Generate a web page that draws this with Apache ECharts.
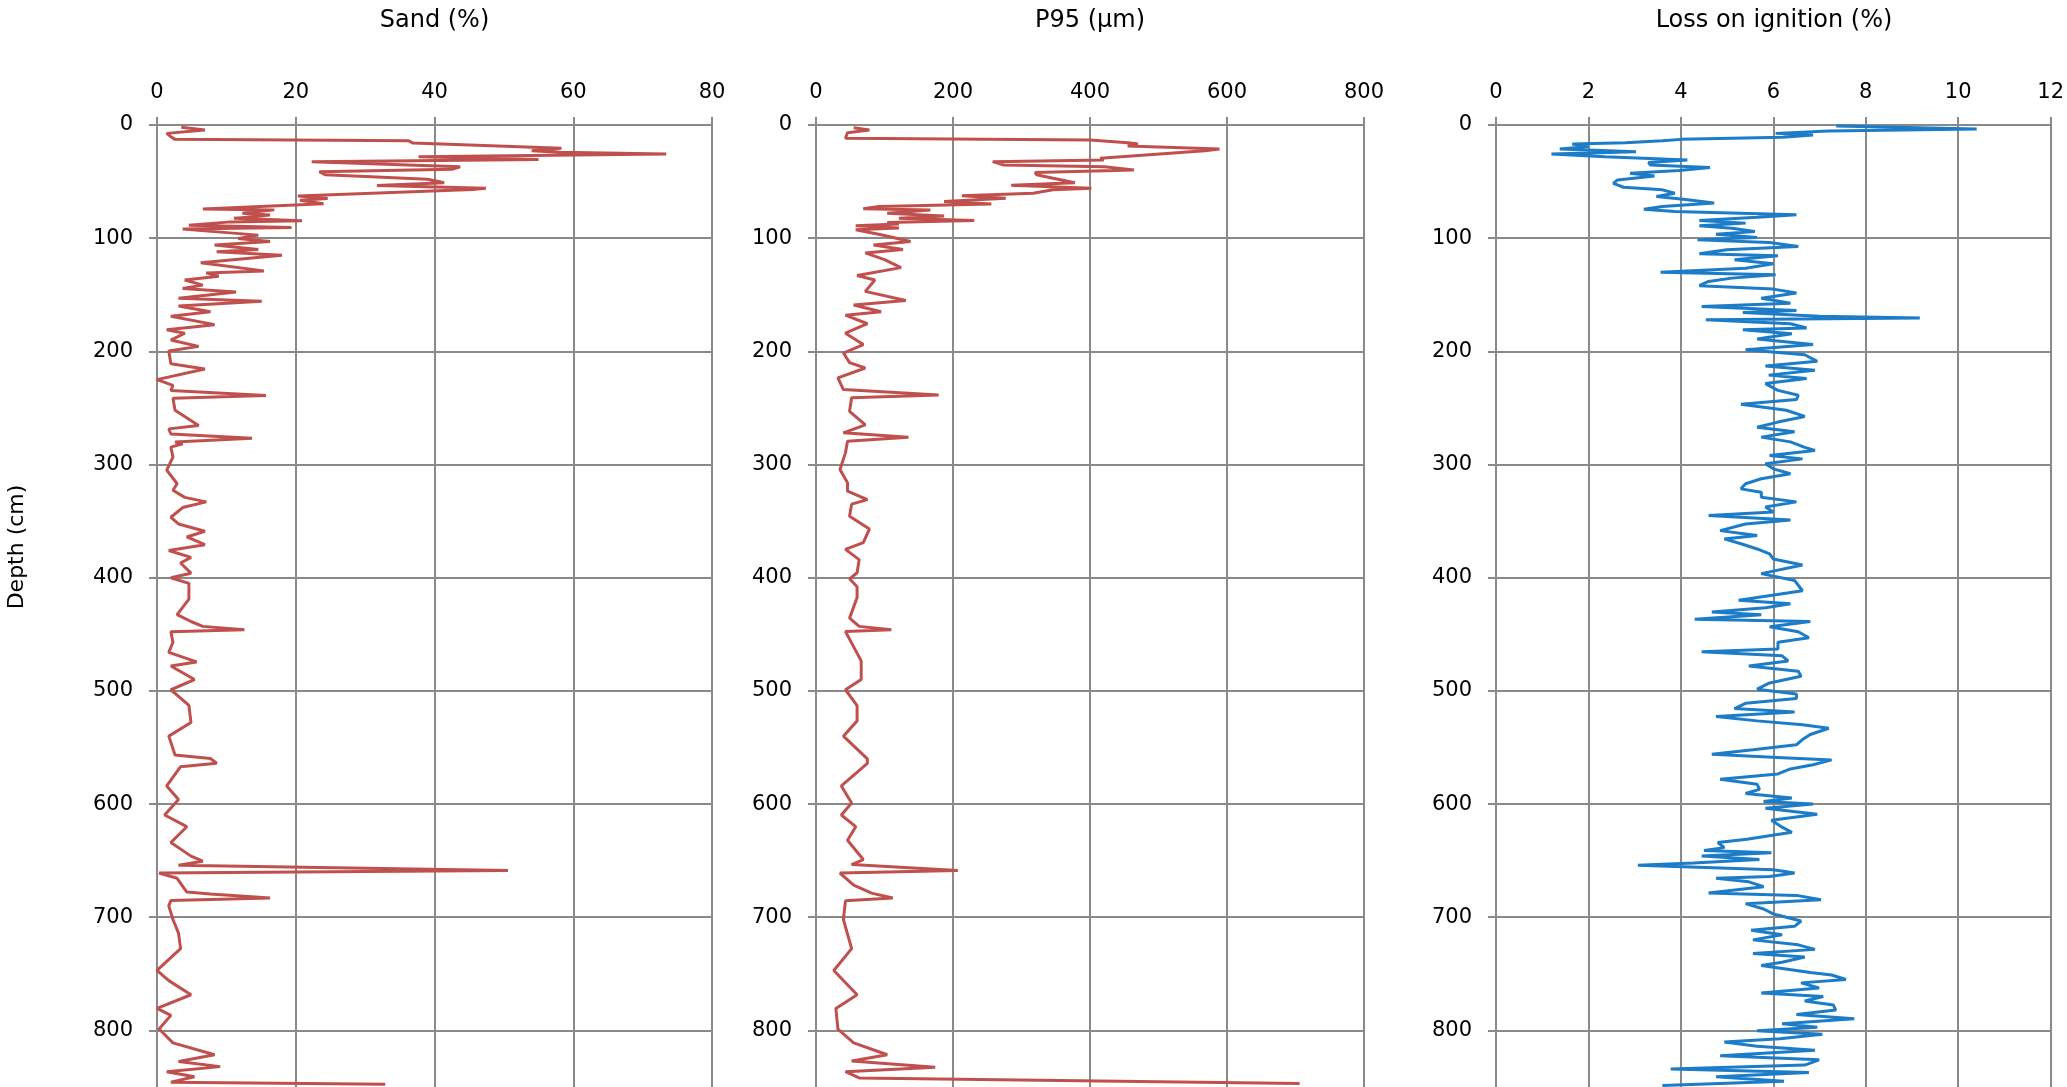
<!DOCTYPE html>
<html>
<head>
<meta charset="utf-8">
<script src="https://cdn.jsdelivr.net/npm/echarts@6/dist/echarts.min.js"></script>
<style>
html,body{margin:0;padding:0;background:#fff;}
#chart{width:2067px;height:1087px;}
</style>
</head>
<body>
<div id="chart"></div>
<script>
// ---------- data ----------
const panelTitles = ['Sand (%)', 'P95 (\u00b5m)', 'Loss on ignition (%)'];
const depthLabel = 'Depth (cm)';
const xMax = [80, 800, 12];
const xInterval = [20, 200, 2];
const depthMax = 850;
const depthInterval = 100;

const sandDepth = [2,4.4,7.4,10.3,12.7,14,16,20.6,22.7,24,25.7,28,30.4,32.4,36.9,39,41.3,44,48,51,53.4,55.8,57,62.8,64.9,66.5,69.6,74.3,75,78,79.6,82.5,84.7,85.6,88.5,90.6,92,97.3,100.3,103,106,110,112,115,121.8,128.9,130.7,133.6,137,141.5,144.5,147.5,153,155.8,160,165,169,176.4,181,184,190,195.6,199.7,211,215.6,225,230,234.5,239,241.5,252,265.5,268.5,273,276.7,280.2,281.7,284.6,293.5,305,317,322.7,329,333,338,346.6,352.5,359,364,370.8,376,382,387,396,400,405,419,432.7,438.7,443,446,447.8,457,466,474.4,478,490,499,512.9,528,540,556.7,559.8,564,567,584,596,609.7,620,634,646,650.5,654,658.7,661,665.6,677.8,679.5,683,685.3,690,702,714,727.7,747,756,768.5,780.6,786.7,798.8,811,821.5,827.5,832,836.6,841,845.7,847.5];
const sandValue = [3.5,6.9,1.4,2.0,2.6,36.3,36.9,58.3,54,58,73.4,37.7,55,22.3,43.7,42.6,23.4,24.3,39,41.4,31.7,47.4,45.5,20.3,24.6,20.6,24,6.6,16.9,12.3,16.3,11.1,20.9,10.6,4.6,19.4,3.7,14.6,11.7,16.3,8.3,14.6,8.6,18,6.3,15.4,7.1,8.9,4,6.6,3.7,11.4,3.1,15.1,3.1,7.7,2,8.3,1.4,4,2,6,1.7,2,6.9,0,2.3,2,15.7,2.3,2.6,6,1.7,2,13.7,2.6,3.7,2,2.3,1.4,2.9,2.3,4,7.1,3.7,2,3.1,6.9,4.3,6.9,1.7,4.9,3.4,4.9,2,4.6,4.6,2.9,4.9,6.6,12.6,2,2.3,1.7,5.7,2,5.4,2,4.6,4.9,1.7,2.6,7.7,8.6,3.4,1.4,3.1,1.1,4.3,2,4.9,6.6,3.1,50.6,0.3,2.9,4.3,7.7,16.3,2,1.7,2.3,3.1,3.4,0,1.7,4.9,0,2,0.3,2.3,8.3,3.1,9.1,1.4,5.4,2,32.9];

const p95Depth = [2.4,4.4,6.8,11.8,13.2,15.6,16.8,18.5,21.2,22.7,29.4,31,32.4,35.3,36.8,39.7,42,44,47,51,53.2,55.9,57.3,60.3,62.6,64.7,67.6,69.7,72,74,75,78,80.3,82.4,84.4,86.2,87.4,89,91,92.6,97,103,106,110,113,119,126,133,137,147,155,159,165,168,175.6,184,194,201.5,210,214.7,223.5,233.8,238.5,241,253,265,272,276,279.5,289.7,304.4,316,323.5,331,335,345.6,357,369,375,384,395.6,401,408,417.5,435.7,443,446,447.5,473.5,490,499,513,526.5,540,560,564,584,599,609.7,620,632,649,653.5,658.7,661,671.7,678.7,683,685.5,702,727.7,747,768.5,780.6,798.8,811,821.5,827,832.6,836.5,842,847];
const p95Value = [55,78,46,43,400,455,470,455,589,568,415,420,258,274,421,464,320,322,346,378,285,402,346,317,213,277,187,256,92,69,167,104,187,121,231,104,121,58,121,58,95,138,84,127,72,100,124,60,86,72,131,55,95,43,75,43,69,40,49,72,32,40,179,52,49,72,40,135,46,43,35,46,46,75,52,49,78,69,43,63,60,49,60,60,49,63,110,43,66,66,43,60,60,40,75,75,37,52,37,58,46,69,52,207,35,55,81,112,43,40,52,26,60,29,32,55,104,52,174,43,63,706];

const loiDepth = [0.9,3.5,5.3,7.4,8.8,10.9,12.7,13.9,15.6,16.8,19,21.2,23.6,25.7,28,31,33.2,35.3,37.6,40.3,42.6,45,48.5,51.6,55,57.3,60.3,63.2,65.6,69,72,74.4,76.5,79.4,81.5,84.4,86.7,89,91.2,94.1,96.5,99.4,101.5,103.8,107.4,110.3,113.8,115.6,119,122.6,126.5,130,132.4,135.3,138.2,142,145,148.5,153,157.4,160.3,163.8,165.6,169,170.6,172,175.6,179.4,181,184.5,189,194,198.5,203,208.8,213,216.8,221,224,228.5,234.5,238.8,242.6,246.8,252,257.5,262.5,267,271,275.8,280,284.8,287.6,292,295,299.4,303.8,308.2,312.6,317,321.5,324.5,329,333,337.6,342,345,349,352.5,358.4,362.8,365.7,370,374.6,379,383.5,388.8,396.4,402.4,411.5,420,423,426.6,430.3,432.7,436.6,438.7,443.3,447.8,453,457,463,465.4,469,473.5,478,482.6,487,493,498.5,502.7,506.7,511,515.6,518.6,522.7,526.5,530,533,538.5,543,547.6,552,556,559.2,561,565.3,569,573.4,578,582.5,587,590.7,594.7,597.7,600,603.8,609,614.4,620.4,625,631,634,638.5,641,643,646,649,652,654,658,661,664,665.6,668.7,673,678.6,680.7,684.6,688,692.7,697,700,703.3,708,711.5,715.4,720,724.4,728.4,732,735.2,739.7,742.7,748.8,751,755,758,762.5,767,770,774,777.6,782,786,789.7,794.2,797.3,800.3,803.3,807.3,810.3,814,817.6,822.4,826,830.6,834.2,837.2,841,845,848.6];
const loiValue = [7.36,10.4,7.2,6.05,6.86,6.2,4.0,3.6,2.8,1.65,2.0,1.38,3.03,1.2,2.36,4.14,3.3,3.34,4.63,3.96,2.9,3.43,2.63,2.54,2.76,3.6,3.87,3.47,4.05,4.72,3.6,3.2,3.87,6.5,5.65,4.4,5.4,4.4,5.1,5.6,4.76,5.65,4.36,5.92,6.54,4.99,4.4,6.1,5.16,6.0,5.4,3.56,6.05,5.1,4.6,4.4,6.0,6.5,5.74,6.37,4.45,6.5,5.34,7.0,9.17,4.54,6.37,6.72,5.34,6.4,5.65,6.86,5.4,6.68,6.95,5.83,6.9,5.9,6.72,5.83,6.1,6.54,6.5,5.3,6.28,6.68,6.1,5.65,6.46,5.74,6.37,6.68,6.9,5.92,6.63,5.83,6.0,6.37,5.74,5.4,5.3,5.74,5.74,6.5,5.83,6.0,4.6,6.37,5.4,4.85,5.65,4.94,5.3,5.65,5.92,6.0,6.63,5.74,6.46,6.63,5.25,6.37,5.83,4.67,5.74,4.3,6.8,5.92,6.54,6.77,6.1,6.1,4.45,6.19,6.32,5.47,6.54,6.6,5.92,5.65,6.5,6.5,5.4,5.16,6.46,4.76,5.65,6.63,7.2,6.8,6.63,6.5,5.56,4.67,6.32,7.26,6.86,6.37,6.1,4.85,5.65,5.7,5.4,6.4,5.79,6.86,5.83,6.95,5.96,6.19,6.4,5.43,4.8,4.94,4.5,5.96,4.45,5.7,4.27,3.07,6.0,6.46,5.92,4.76,5.47,5.79,4.6,6.5,7.03,5.4,5.79,6.0,6.28,6.6,6.46,5.52,6.19,5.56,6.54,6.9,5.56,6.68,6.19,5.74,6.8,7.26,7.57,6.6,6.99,5.74,7.08,6.68,7.3,7.35,6.5,7.75,6.19,6.95,5.65,7.06,6.14,4.94,5.65,6.9,4.85,6.99,6.68,3.78,6.77,4.76,6.23,3.6];

// ---------- build ----------
const seriesDepths = [sandDepth, p95Depth, loiDepth];
const seriesValues = [sandValue, p95Value, loiValue];
const colors = ['#c0504d', '#c0504d', '#1c7cc8'];
const gridLeft = [157, 816, 1496];
const gridWidth = [555, 548, 556];
const gray = '#898989';
const font = 'DejaVu Sans';

const grids = [], xAxes = [], yAxes = [], series = [], graphics = [];
for (let i = 0; i < 3; i++) {
  grids.push({left: gridLeft[i], top: 125, width: gridWidth[i], bottom: 0, containLabel: false});
  xAxes.push({
    type: 'value', gridIndex: i, position: 'top', min: 0, max: xMax[i], interval: xInterval[i],
    axisLine: {show: true, lineStyle: {color: gray, width: 2}},
    axisTick: {show: true, length: 8, lineStyle: {color: gray, width: 2}},
    axisLabel: {color: '#000', fontSize: 21, fontFamily: font, margin: 22},
    splitLine: {show: true, lineStyle: {color: gray, width: 2}}
  });
  yAxes.push({
    type: 'value', gridIndex: i, inverse: true, min: 0, max: depthMax, interval: depthInterval,
    axisLine: {show: true, lineStyle: {color: gray, width: 2}},
    axisTick: {show: true, length: 8, lineStyle: {color: gray, width: 2}},
    axisLabel: {color: '#000', fontSize: 21, fontFamily: font, margin: 24, showMaxLabel: false},
    splitLine: {show: true, showMaxLine: false, lineStyle: {color: gray, width: 2}}
  });
  const d = seriesDepths[i].map((dep, k) => [seriesValues[i][k], dep]);
  series.push({
    type: 'line', xAxisIndex: i, yAxisIndex: i, data: d, showSymbol: false, symbol: 'none',
    lineStyle: {color: colors[i], width: 3}, itemStyle: {color: colors[i]}
  });
  graphics.push({
    type: 'text', x: gridLeft[i] + gridWidth[i] / 2, y: 21,
    style: {text: panelTitles[i], fontSize: 24, fontFamily: font, fill: '#000', textAlign: 'center', textVerticalAlign: 'middle'}
  });
}
graphics.push({
  type: 'text', x: 17, y: 547, rotation: Math.PI / 2,
  style: {text: depthLabel, fontSize: 22, fontFamily: font, fill: '#000', textAlign: 'center', textVerticalAlign: 'middle'}
});

const chart = echarts.init(document.getElementById('chart'), null, {renderer: 'canvas'});
chart.setOption({
  animation: false,
  backgroundColor: '#fff',
  grid: grids, xAxis: xAxes, yAxis: yAxes, series: series, graphic: graphics
});
</script>
</body>
</html>
